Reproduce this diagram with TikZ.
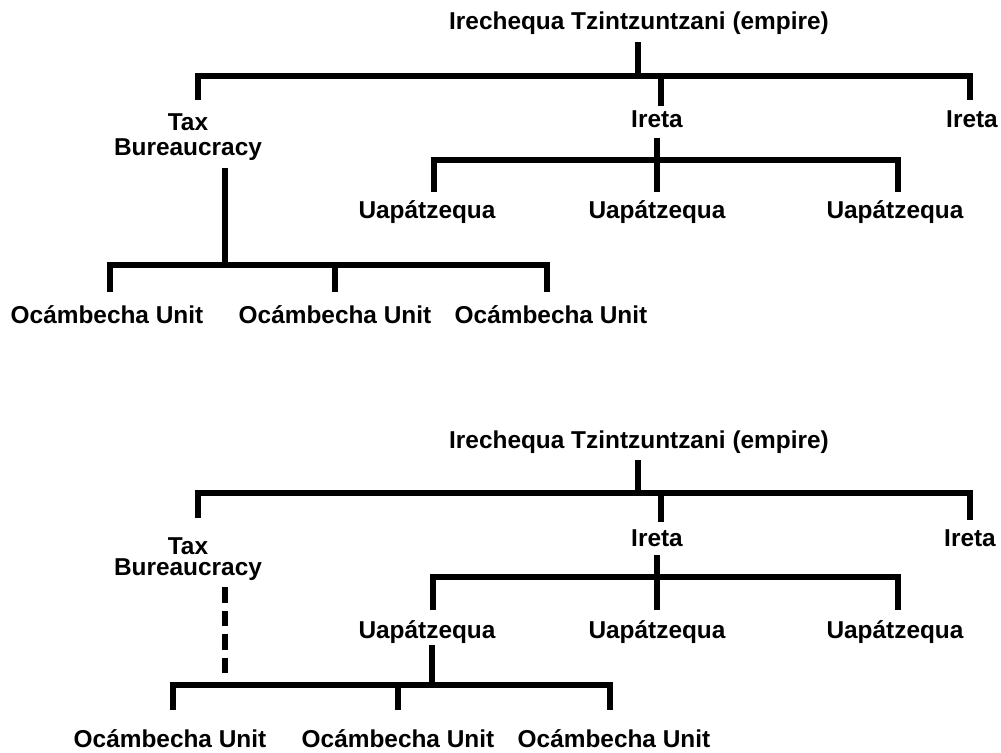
\documentclass[tikz,border=0pt]{standalone}
\usepackage{fontspec}
\setmainfont{Liberation Sans}
\usetikzlibrary{calc}
\begin{document}
\begin{tikzpicture}[
  x=0.75pt, y=-0.75pt, % one pixel of the reference, y down
  font=\bfseries\fontsize{18.3}{18.75}\selectfont,
  line join=miter,
  lbl/.style={anchor=base, inner sep=0pt, align=center},
  link/.style={line width=5pt, line cap=butt},
  dashlink/.style={link, dash pattern=on 11.6pt off 6pt}
]
  % ---- page size ----
  \fill[white] (0,0) rectangle (1001,753);
  \useasboundingbox (0,0) rectangle (1001,753);

  % ================= upper chart =================
  % ---- labels ----
  \node[lbl] (root1) at (639,30) {Irechequa Tzintzuntzani (empire)};
  \node[lbl, anchor=north] (tax1) at (188,113) {Tax\\Bureaucracy};
  \node[lbl] (iret1) at (657,127) {Ireta};
  \node[lbl] (iretR1) at (972,127) {Ireta};
  \node[lbl] (uap1a) at (427,218) {Uapátzequa};
  \node[lbl] (uap1b) at (657,218) {Uapátzequa};
  \node[lbl] (uap1c) at (895,218) {Uapátzequa};
  \node[lbl] (oca1a) at (107,323) {Ocámbecha Unit};
  \node[lbl] (oca1b) at (335,323) {Ocámbecha Unit};
  \node[lbl] (oca1c) at (551,323) {Ocámbecha Unit};

  % ---- connectors ----
  \draw[link] ($(root1.base)+(-1,12)$) -- ++(0,34);
  \draw[link] ($(tax1.north)+(10,-13)$) -- ++(0,-24) -| ($(iretR1.base)+(-2,-27)$);
  \draw[link] ($(iret1.base)+(4,-21)$) -- ++(0,-30);
  % Ireta -> Uapatzequa
  \draw[link] ($(iret1.base)+(0,11)$) -- ($(uap1b.base)+(0,-26)$);
  \draw[link] ($(uap1a.base)+(7,-26)$) -- ++(0,-32) -| ($(uap1c.base)+(3,-26)$);
  % Tax -> Ocambecha
  \draw[link] ($(tax1.south)+(37,8)$) -- ++(0,97);
  \draw[link] ($(oca1a.base)+(3,-31)$) -- ++(0,-27) -| ($(oca1c.base)+(-4,-31)$);
  \draw[link] ($(oca1b.base)+(0,-31)$) -- ++(0,-27);

  % ================= lower chart =================
  % ---- labels ----
  \node[lbl] (root2) at (639,448) {Irechequa Tzintzuntzani (empire)};
  \node[lbl, anchor=north] (tax2) at (188,537) {Tax\\[-3pt]Bureaucracy};
  \node[lbl] (iret2) at (657,546) {Ireta};
  \node[lbl] (iretR2) at (970,546) {Ireta};
  \node[lbl] (uap2a) at (427,638) {Uapátzequa};
  \node[lbl] (uap2b) at (657,638) {Uapátzequa};
  \node[lbl] (uap2c) at (895,638) {Uapátzequa};
  \node[lbl] (oca2a) at (170,747) {Ocámbecha Unit};
  \node[lbl] (oca2b) at (398,747) {Ocámbecha Unit};
  \node[lbl] (oca2c) at (614,747) {Ocámbecha Unit};

  % ---- connectors ----
  \draw[link] ($(root2.base)+(-1,12)$) -- ++(0,33);
  \draw[link] ($(tax2.north)+(10,-19)$) -- ++(0,-25) -| ($(iretR2.base)+(0,-26)$);
  \draw[link] ($(iret2.base)+(4,-24)$) -- ++(0,-29);
  % Ireta -> Uapatzequa
  \draw[link] ($(iret2.base)+(0,9)$) -- ($(uap2b.base)+(0,-28)$);
  \draw[link] ($(uap2a.base)+(6,-28)$) -- ++(0,-33) -| ($(uap2c.base)+(3,-28)$);
  % Uapatzequa -> Ocambecha
  \draw[link] ($(uap2a.base)+(5,7)$) -- ++(0,40);
  \draw[link] ($(oca2a.base)+(3,-37)$) -- ++(0,-25) -| ($(oca2c.base)+(-4,-37)$);
  \draw[link] ($(oca2b.base)+(0,-37)$) -- ++(0,-25);
  % Tax, cut off
  \draw[dashlink] ($(tax2.south)+(37,7)$) -- ++(0,86);

\end{tikzpicture}
\end{document}
